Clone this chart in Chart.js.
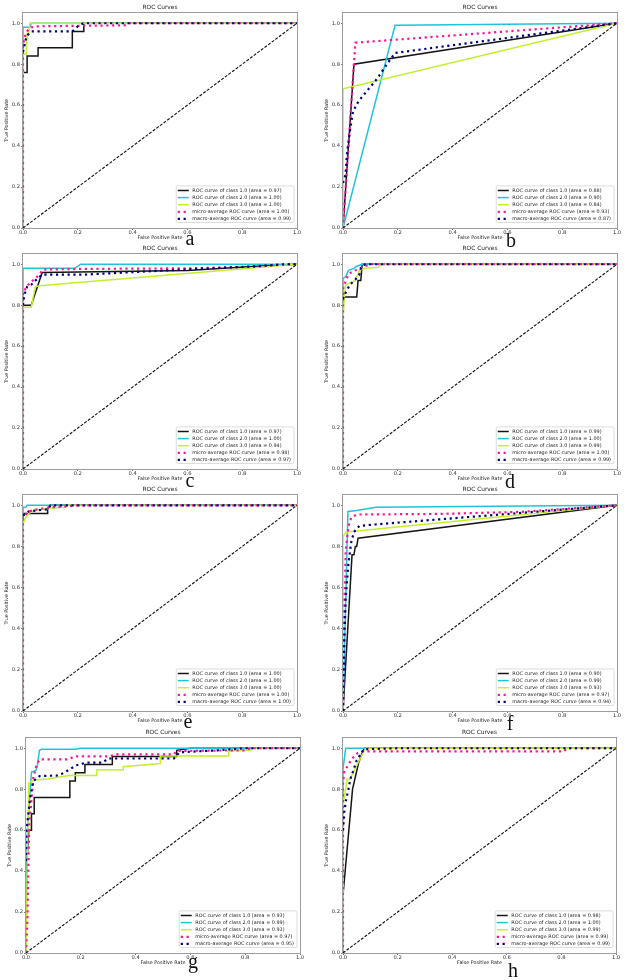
<!DOCTYPE html>
<html>
<head>
<meta charset="utf-8">
<script src="https://cdn.jsdelivr.net/npm/chart.js@4.4.0/dist/chart.umd.min.js"></script>
<style>
  html, body { margin: 0; padding: 0; background: #fff; }
  #page { position: relative; width: 627px; height: 980px; overflow: hidden; background: #fff; }
  #page canvas { position: absolute; }
  .tag { position: absolute; font-family: "Liberation Serif", "DejaVu Serif", serif; font-size: 20px; line-height: 20px; color: #111; transform: translateX(-50%); }
</style>
</head>
<body>
<div id="page"></div>
<script>
// === Dữ liệu (fpr, tpr)
const xTicks = [0, 0.2, 0.4, 0.6, 0.8, 1.0];
const yTicks = [0, 0.2, 0.4, 0.6, 0.8, 1.0];
const seriesNames = ["ROC curve of class 1.0", "ROC curve of class 2.0", "ROC curve of class 3.0",
  "micro-average ROC curve", "macro-average ROC curve"];
const chance = [[0, 0], [1, 1]];

// a
const rocA1 = [[0,0],[0,0.76],[0.015,0.76],[0.015,0.84],[0.055,0.84],[0.055,0.88],[0.18,0.88],[0.18,0.96],[0.222,0.96],[0.222,1],[1,1]];
const rocA2 = [[0,0],[0,0.98],[0.025,0.98],[0.03,1],[1,1]];
const rocA3 = [[0,0],[0,0.85],[0.012,0.85],[0.015,0.95],[0.02,0.95],[0.025,1],[1,1]];
const microA = [[0,0],[0,0.9],[0.005,0.92],[0.01,0.95],[0.02,0.97],[0.03,0.98],[0.05,0.985],[0.37,0.99],[0.38,1],[1,1]];
const macroA = [[0,0.86],[0.01,0.92],[0.015,0.94],[0.03,0.96],[0.18,0.96],[0.2,0.985],[0.22,1],[1,1]];
const areaA = [0.97, 1.00, 1.00, 1.00, 0.99];

// b
const rocB1 = [[0,0],[0.04,0.8],[1,1]];
const rocB2 = [[0,0],[0.19,0.99],[1,1]];
const rocB3 = [[0,0],[0,0.68],[1,1]];
const microB = [[0,0],[0.045,0.905],[1,1]];
const macroB = [[0,0.22],[0.009,0.26],[0.015,0.37],[0.027,0.49],[0.037,0.57],[0.057,0.62],[0.088,0.67],[0.125,0.73],[0.155,0.79],[0.19,0.855],[1,1]];
const areaB = [0.88, 0.90, 0.84, 0.93, 0.87];

// c
const rocC1 = [[0,0],[0,0.8],[0.03,0.8],[0.07,0.96],[0.6,0.97],[0.85,0.99],[1,1]];
const rocC2 = [[0,0],[0,0.98],[0.19,0.98],[0.21,1],[1,1]];
const rocC3 = [[0,0],[0,0.79],[0.03,0.79],[0.045,0.89],[0.06,0.895],[0.88,0.987],[1,1]];
const microC = [[0,0],[0,0.87],[0.006,0.875],[0.024,0.908],[0.043,0.928],[0.059,0.949],[0.073,0.974],[0.2,0.977],[0.6,0.98],[0.85,0.988],[0.95,1],[1,1]];
const macroC = [[0,0.8],[0.005,0.85],[0.015,0.89],[0.03,0.9],[0.045,0.92],[0.07,0.949],[0.22,0.949],[0.6,0.975],[0.85,0.99],[0.96,1],[1,1]];
const areaC = [0.97, 1.00, 0.94, 0.98, 0.97];

// d
const rocD1 = [[0,0],[0,0.84],[0.05,0.84],[0.055,0.92],[0.065,0.92],[0.07,1],[1,1]];
const rocD2 = [[0,0],[0,0.93],[0.01,0.94],[0.02,0.97],[0.04,0.98],[0.05,0.99],[0.07,1],[1,1]];
const rocD3 = [[0,0],[0,0.73],[0.005,0.84],[0.01,0.9],[0.045,0.92],[0.06,0.97],[0.08,0.98],[0.13,0.985],[0.14,1],[1,1]];
const microD = [[0,0],[0,0.88],[0.01,0.92],[0.02,0.95],[0.03,0.96],[0.045,0.97],[0.06,0.98],[0.08,0.99],[0.1,1],[1,1]];
const macroD = [[0,0.83],[0.005,0.85],[0.015,0.875],[0.025,0.9],[0.045,0.925],[0.06,0.95],[0.065,0.98],[0.075,0.99],[0.08,1],[1,1]];
const areaD = [0.99, 1.00, 0.99, 1.00, 0.99];

// e
const rocE1 = [[0,0],[0,0.96],[0.09,0.96],[0.09,0.98],[0.1,1],[1,1]];
const rocE2 = [[0,0],[0,0.99],[0.01,0.99],[0.015,1],[1,1]];
const rocE3 = [[0,0],[0,0.91],[0.01,0.94],[0.02,0.96],[0.04,0.975],[0.1,0.985],[0.15,0.99],[0.16,1],[1,1]];
const microE = [[0,0],[0,0.94],[0.02,0.97],[0.05,0.98],[0.1,0.99],[0.16,0.995],[0.2,1],[1,1]];
const macroE = [[0,0.95],[0.02,0.97],[0.05,0.975],[0.09,0.98],[0.1,1],[1,1]];
const areaE = [1.00, 1.00, 1.00, 1.00, 1.00];

// f
const rocF1 = [[0,0],[0.033,0.76],[0.04,0.76],[0.045,0.8],[0.05,0.8],[0.055,0.84],[1,1]];
const rocF2 = [[0,0],[0.018,0.97],[0.05,0.975],[0.12,0.99],[1,1]];
const rocF3 = [[0,0],[0,0.85],[0.012,0.87],[0.05,0.875],[1,1]];
const microF = [[0,0],[0.005,0.5],[0.01,0.78],[0.02,0.9],[0.03,0.94],[0.05,0.955],[0.35,0.958],[0.65,0.968],[1,1]];
const macroF = [[0,0],[0.005,0.35],[0.01,0.55],[0.02,0.72],[0.03,0.82],[0.04,0.87],[0.06,0.9],[0.1,0.905],[1,1]];
const areaF = [0.90, 0.99, 0.93, 0.97, 0.94];

// g
const rocG1 = [[0,0],[0,0.42],[0.005,0.48],[0.01,0.6],[0.02,0.6],[0.02,0.68],[0.03,0.68],[0.03,0.76],[0.16,0.76],[0.16,0.84],[0.18,0.84],[0.18,0.88],[0.215,0.88],[0.215,0.92],[0.315,0.92],[0.315,0.96],[0.55,0.96],[0.55,0.99],[0.6,1],[1,1]];
const rocG2 = [[0,0],[0.005,0.6],[0.02,0.884],[0.035,0.89],[0.041,0.91],[0.049,0.99],[0.057,0.995],[0.18,0.995],[0.2,1],[1,1]];
const rocG3 = [[0,0],[0.005,0.45],[0.01,0.83],[0.03,0.845],[0.08,0.85],[0.12,0.86],[0.16,0.867],[0.258,0.867],[0.258,0.895],[0.355,0.895],[0.355,0.91],[0.49,0.925],[0.49,0.962],[0.74,0.962],[0.74,0.987],[0.82,0.99],[0.83,1],[1,1]];
const microG = [[0,0],[0.005,0.15],[0.009,0.45],[0.012,0.62],[0.02,0.75],[0.027,0.86],[0.039,0.92],[0.05,0.946],[0.15,0.946],[0.18,0.96],[0.3,0.96],[0.33,0.97],[0.54,0.97],[0.55,0.987],[0.8,0.99],[0.82,1],[1,1]];
const macroG = [[0,0.45],[0.002,0.6],[0.009,0.684],[0.015,0.758],[0.027,0.84],[0.05,0.864],[0.12,0.867],[0.148,0.888],[0.185,0.917],[0.22,0.93],[0.28,0.93],[0.3,0.95],[0.54,0.95],[0.56,0.98],[0.7,0.99],[0.8,1],[1,1]];
const areaG = [0.93, 0.99, 0.93, 0.97, 0.95];

// h
const rocH1 = [[0,0],[0,0.283],[0.035,0.8],[0.057,0.928],[0.07,0.977],[0.078,1],[1,1]];
const rocH2 = [[0,0],[0,0.9],[0.01,1],[1,1]];
const rocH3 = [[0,0],[0,0.72],[0.015,0.848],[0.025,0.848],[0.076,0.985],[0.085,1],[1,1]];
const microH = [[0,0],[0,0.83],[0.005,0.89],[0.018,0.915],[0.03,0.944],[0.039,0.957],[0.054,0.977],[0.075,0.985],[0.81,0.985],[0.82,1],[1,1]];
const macroH = [[0,0.6],[0.005,0.69],[0.01,0.74],[0.02,0.8],[0.027,0.85],[0.04,0.9],[0.05,0.94],[0.064,0.97],[0.076,0.995],[0.2,1],[1,1]];
const areaH = [0.98, 1.00, 0.99, 0.99, 0.99];

// === Bố cục các ô (mép khung trái, phải, trên, dưới) và chữ cái
const panels = [
  { tag: "a", box: [23, 297, 13, 228], tagAt: [190, 245], curves: [rocA1, rocA2, rocA3, microA, macroA], areas: areaA },
  { tag: "b", box: [343, 617, 13, 228], tagAt: [511, 247], curves: [rocB1, rocB2, rocB3, microB, macroB], areas: areaB },
  { tag: "c", box: [23, 297, 254, 469], tagAt: [190, 487], curves: [rocC1, rocC2, rocC3, microC, macroC], areas: areaC },
  { tag: "d", box: [343, 617, 254, 469], tagAt: [510, 488], curves: [rocD1, rocD2, rocD3, microD, macroD], areas: areaD },
  { tag: "e", box: [23, 297, 495, 711], tagAt: [188, 728], curves: [rocE1, rocE2, rocE3, microE, macroE], areas: areaE },
  { tag: "f", box: [343, 617, 495, 711], tagAt: [510, 730], curves: [rocF1, rocF2, rocF3, microF, macroF], areas: areaF },
  { tag: "g", box: [26, 300, 738, 953], tagAt: [193, 968], curves: [rocG1, rocG2, rocG3, microG, macroG], areas: areaG },
  { tag: "h", box: [343, 616, 738, 953], tagAt: [513, 977], curves: [rocH1, rocH2, rocH3, microH, macroH], areas: areaH },
];

const lineColors = ["#151515", "#22c3d6", "#c2f030", "#ff1493", "#000080"];
const FONT = "DejaVu Sans";
const AXIS_W = 22, AXIS_H = 16, PAD_T = 13, PAD_R = 10;

// cỡ chữ sao cho chuỗi có bề rộng đúng như hình
const measureCtx = document.createElement("canvas").getContext("2d");
function fitSize(text, width) {
  measureCtx.font = "10px '" + FONT + "'";
  return 10 * width / measureCtx.measureText(text).width;
}
const titleSize = fitSize("ROC Curves", 35);
const labelSize = fitSize("False Positive Rate", 45);
const legendSize = fitSize("macro-average ROC curve (area = 0.99)", 99);

// === Plugin vẽ khung, tiêu đề, nhãn trục và chú giải
const decor = {
  id: "decor",
  beforeDatasetsDraw(chart) {
    const { ctx, chartArea: a } = chart;
    ctx.save();
    ctx.strokeStyle = "#9c9c9c";
    ctx.lineWidth = 1;
    ctx.strokeRect(a.left - 0.5, a.top - 0.5, a.width + 1, a.height + 1);
    ctx.restore();
  },
  afterDraw(chart) {
    const { ctx, chartArea: a } = chart;
    const cx = (a.left + a.right) / 2;
    ctx.save();
    ctx.fillStyle = "#222";
    ctx.textAlign = "center";
    ctx.textBaseline = "middle";
    ctx.font = titleSize + "px '" + FONT + "'";
    ctx.fillText("ROC Curves", cx, a.top - 6);
    ctx.font = labelSize + "px '" + FONT + "'";
    ctx.fillText("False Positive Rate", cx, a.bottom + 10);
    ctx.translate(a.left - 16, (a.top + a.bottom) / 2);
    ctx.rotate(-Math.PI / 2);
    ctx.fillText("True Positive Rate", 0, 0);
    ctx.restore();

    // chú giải
    const sets = chart.data.datasets.slice(0, 5);
    ctx.save();
    ctx.font = legendSize + "px '" + FONT + "'";
    const tw = Math.max(...sets.map(d => ctx.measureText(d.label).width));
    const bw = 16 + tw + 3, bh = 36.6;
    const bx = a.right - 3 - bw, by = a.bottom - 5.5 - bh;
    ctx.fillStyle = "rgba(255,255,255,0.85)";
    ctx.strokeStyle = "#d4d4d4";
    ctx.lineWidth = 0.8;
    ctx.beginPath();
    ctx.roundRect(bx, by, bw, bh, 1.5);
    ctx.fill();
    ctx.stroke();
    sets.forEach((d, i) => {
      const y = by + 4.6 + i * 7.1;
      ctx.strokeStyle = d.borderColor;
      ctx.lineWidth = d.borderWidth;
      ctx.setLineDash(d.borderDash);
      ctx.beginPath();
      ctx.moveTo(bx + 1.5, y);
      ctx.lineTo(bx + 12.5, y);
      ctx.stroke();
      ctx.setLineDash([]);
      ctx.fillStyle = "#222";
      ctx.textAlign = "left";
      ctx.textBaseline = "middle";
      ctx.fillText(d.label, bx + 16, y + 0.3);
    });
    ctx.restore();
  },
};

const page = document.getElementById("page");
const tickFont = { family: FONT, size: 5.2 };

panels.forEach((p) => {
  const [L, R, T, B] = p.box;
  const w = R - L + AXIS_W + PAD_R;
  const h = B - T + PAD_T + AXIS_H;
  const cv = document.createElement("canvas");
  cv.width = w;
  cv.height = h;
  cv.style.left = L - AXIS_W + "px";
  cv.style.top = T - PAD_T + "px";
  cv.style.width = w + "px";
  cv.style.height = h + "px";
  page.appendChild(cv);

  const datasets = p.curves.map((pts, i) => ({
    label: seriesNames[i] + " (area = " + p.areas[i].toFixed(2) + ")",
    data: pts.map(([x, y]) => ({ x, y })),
    showLine: true,
    borderColor: lineColors[i],
    borderWidth: i < 3 ? 1.5 : 2.2,
    borderDash: i < 3 ? [] : [2.2, 3.6],
    borderCapStyle: "butt",
    pointRadius: 0,
    fill: false,
    order: 5 - i,
  }));
  datasets.push({
    label: "chance",
    data: chance.map(([x, y]) => ({ x, y })),
    showLine: true,
    borderColor: "#111",
    borderWidth: 1.1,
    borderDash: [3, 1.5],
    pointRadius: 0,
    fill: false,
    order: 0,
  });

  new Chart(cv, {
    type: "scatter",
    data: { datasets },
    options: {
      responsive: false,
      animation: false,
      devicePixelRatio: 1,
      layout: { padding: { top: PAD_T, right: PAD_R, left: 0, bottom: 0 } },
      plugins: { legend: { display: false }, tooltip: { enabled: false }, title: { display: false } },
      scales: {
        x: {
          type: "linear",
          min: 0,
          max: 1,
          afterBuildTicks: (s) => { s.ticks = xTicks.map((v) => ({ value: v })); },
          afterFit: (s) => { s.height = AXIS_H; },
          ticks: { font: tickFont, color: "#333", padding: 0, maxRotation: 0, autoSkip: false, callback: (v) => v.toFixed(1) },
          grid: { drawOnChartArea: false, drawTicks: true, tickLength: 2, tickColor: "#777" },
          border: { display: false },
        },
        y: {
          type: "linear",
          min: 0,
          max: 1.05,
          afterBuildTicks: (s) => { s.ticks = yTicks.map((v) => ({ value: v })); },
          afterFit: (s) => { s.width = AXIS_W; },
          ticks: { font: tickFont, color: "#333", padding: 1, autoSkip: false, callback: (v) => v.toFixed(1) },
          grid: { drawOnChartArea: false, drawTicks: true, tickLength: 2, tickColor: "#777" },
          border: { display: false },
        },
      },
    },
    plugins: [decor],
  });

  // chữ cái dưới mỗi ô
  const tag = document.createElement("div");
  tag.className = "tag";
  tag.textContent = p.tag;
  tag.style.left = p.tagAt[0] + "px";
  tag.style.top = p.tagAt[1] - 16.75 + "px";
  page.appendChild(tag);
});
</script>
</body>
</html>
